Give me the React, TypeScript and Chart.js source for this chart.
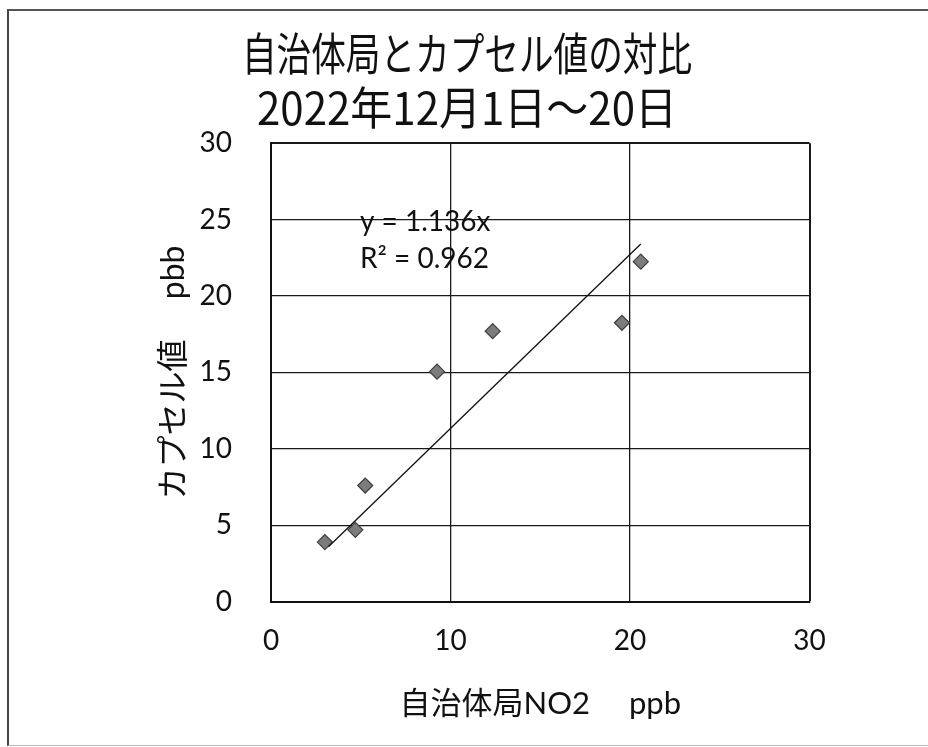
import React, { useEffect, useRef } from "react";
import { Chart, registerables } from "chart.js";

Chart.register(...registerables);

// ---- data ----
const capsuleX = [3.0, 4.7, 5.25, 9.25, 12.35, 19.55, 20.6];
const capsuleY = [3.9, 4.7, 7.6, 15.05, 17.7, 18.25, 22.25];
const trendX = [3.2, 20.6];
const trendY = [3.6, 23.4];
const xTicks = [0, 10, 20, 30];
const yTicks = [0, 5, 10, 15, 20, 25, 30];
const titleLines = ["自治体局とカプセル値の対比", "2022年12月1日～20日"];
const xTitle = "自治体局NO2　 ppb";
const yTitle = "カプセル値　 pbb";
const equationLines = ["y = 1.136x", "R² = 0.962"];

const LATIN = 'Lato, "Noto Sans CJK JP", sans-serif';
const CJK = '"Noto Sans CJK JP", sans-serif';

const textPlugin = {
  id: "sheetTexts",
  afterDraw(chart: any) {
    const ctx = chart.ctx;
    const area = chart.chartArea;
    ctx.save();
    ctx.fillStyle = "#111";
    ctx.textBaseline = "middle";
    ctx.textAlign = "center";
    ctx.font = "45px " + CJK;
    ctx.fillText(titleLines[0], 467, 54, 450);
    ctx.fillText(titleLines[1], 467, 108, 420);
    ctx.textAlign = "left";
    ctx.font = "28px " + LATIN;
    ctx.fillText(equationLines[0], area.left + 89, 222);
    ctx.fillText(equationLines[1], area.left + 89, 259);
    ctx.restore();
  },
};

export default function App() {
  const ref = useRef<HTMLCanvasElement | null>(null);

  useEffect(() => {
    if (!ref.current) return;
    const points = capsuleX.map((x, i) => ({ x, y: capsuleY[i] }));
    const trend = trendX.map((x, i) => ({ x, y: trendY[i] }));
    const gridWidth = (c: any) =>
      c.tick && c.tick.value === 30 ? 2 : 1.3;
    const chart = new Chart(ref.current, {
      type: "scatter",
      data: {
        datasets: [
          {
            label: "trend",
            data: trend,
            showLine: true,
            borderColor: "#111",
            borderWidth: 1.3,
            pointRadius: 0,
            fill: false,
          },
          {
            label: "capsule",
            data: points,
            pointStyle: "rectRot",
            pointRadius: 7.5,
            backgroundColor: "#7c7c7c",
            borderColor: "#3f3f3f",
            borderWidth: 1.2,
          },
        ],
      },
      options: {
        animation: false,
        responsive: false,
        events: [],
        layout: { padding: { top: 143.2, left: 0, right: 118.5, bottom: 0 } },
        plugins: {
          legend: { display: false },
          tooltip: { enabled: false },
          title: { display: false },
        },
        scales: {
          x: {
            type: "linear",
            min: xTicks[0],
            max: xTicks[xTicks.length - 1],
            ticks: {
              stepSize: xTicks[1] - xTicks[0],
              padding: 22,
              color: "#111",
              font: { family: LATIN, size: 28 },
            },
            grid: { color: "#1a1a1a", lineWidth: gridWidth, drawTicks: false },
            border: { display: true, color: "#111", width: 2 },
            title: {
              display: true,
              text: xTitle,
              color: "#111",
              font: { family: LATIN, size: 31 },
              padding: { top: 0, bottom: 24.4 },
            },
            afterFit(scale: any) {
              scale.height = 145.3;
            },
          },
          y: {
            type: "linear",
            min: yTicks[0],
            max: yTicks[yTicks.length - 1],
            ticks: {
              stepSize: yTicks[1] - yTicks[0],
              padding: 39,
              color: "#111",
              font: { family: LATIN, size: 28 },
            },
            grid: { color: "#1a1a1a", lineWidth: gridWidth, drawTicks: false },
            border: { display: true, color: "#111", width: 2 },
            title: {
              display: true,
              text: yTitle,
              color: "#111",
              font: { family: LATIN, size: 32 },
              padding: { top: 154.8, bottom: 0 },
            },
            afterFit(scale: any) {
              scale.width = 271;
            },
          },
        },
      },
      plugins: [textPlugin],
    } as any);
    return () => chart.destroy();
  }, []);

  return (
    <div
      style={{
        position: "fixed",
        left: 0,
        top: 0,
        width: 928,
        height: 747,
        background: "#fff",
        overflow: "hidden",
      }}
    >
      <div
        style={{
          position: "absolute",
          left: 7,
          top: 9,
          width: 925,
          height: 734,
          borderTop: "2px solid #555",
          borderLeft: "2px solid #444",
          borderBottom: "1px solid #bbb",
        }}
      />
      <canvas
        ref={ref}
        width={928}
        height={747}
        style={{ position: "absolute", left: 0, top: 0, display: "block" }}
      />
    </div>
  );
}
